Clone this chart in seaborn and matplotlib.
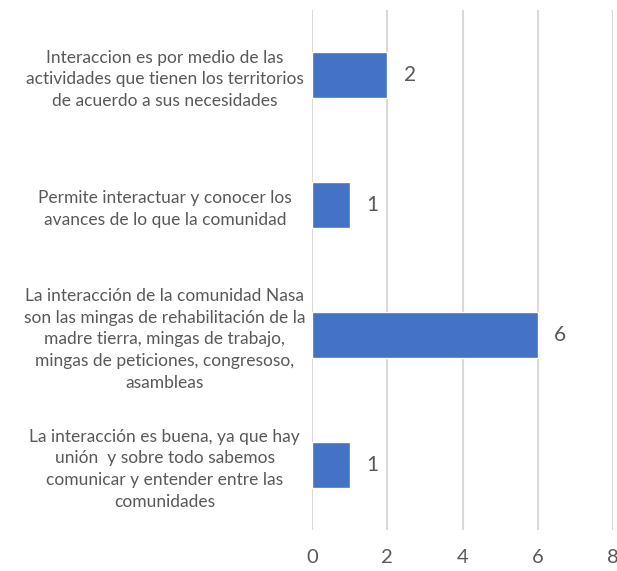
import matplotlib
matplotlib.use("Agg")
import matplotlib.pyplot as plt
import seaborn as sns
import pandas as pd

# ----------------------------------------------------------------
# Data
# ----------------------------------------------------------------
categories = [
    "Interaccion es por medio de las\nactividades que tienen los territorios\nde acuerdo a sus necesidades",
    "Permite interactuar y conocer los\navances de lo que la comunidad",
    "La interacción de la comunidad Nasa\nson las mingas de rehabilitación de la\nmadre tierra, mingas de trabajo,\nmingas de peticiones, congresoso,\nasambleas",
    "La interacción es buena, ya que hay\nunión  y sobre todo sabemos\ncomunicar y entender entre las\ncomunidades",
]
values = [2, 1, 6, 1]
x_ticks = [0, 2, 4, 6, 8]

df = pd.DataFrame({"category": categories, "value": values})

# ----------------------------------------------------------------
# Plot
# ----------------------------------------------------------------
sns.set_style("white")
plt.rcParams["font.family"] = ["Lato", "DejaVu Sans"]
text_color = "#595959"

fig = plt.figure(figsize=(6.17, 5.71), dpi=100)
ax = fig.add_axes([312 / 617, 41 / 571, 301 / 617, 520 / 571])

sns.barplot(data=df, x="value", y="category", orient="h", color="#4472C4",
            saturation=1, width=0.35, ax=ax, zorder=3)

ax.set_xlim(0, 8)
ax.set_xticks(x_ticks)
ax.grid(axis="x", color="#D9D9D9", linewidth=1.5, zorder=0)
ax.set_axisbelow(True)
for s in ax.spines.values():
    s.set_visible(False)

ax.set_xlabel("")
ax.set_ylabel("")
ax.tick_params(axis="x", length=0, pad=14, labelsize=14.5, labelcolor=text_color)
ax.tick_params(axis="y", length=0, pad=106, labelsize=12.5, labelcolor=text_color)
for lbl in ax.get_yticklabels():
    lbl.set_horizontalalignment("center")
    lbl.set_multialignment("center")
    lbl.set_linespacing(1.45)

for i, v in enumerate(values):
    ax.text(v + 0.6, i, str(v), va="center", ha="center", fontsize=15, color=text_color)

fig.savefig("out.png", dpi=100)
